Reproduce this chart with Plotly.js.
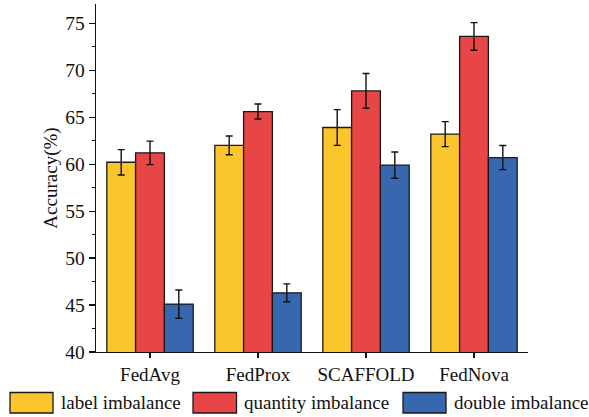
<!DOCTYPE html>
<html>
<head>
<meta charset="utf-8">
<script src="https://cdn.plot.ly/plotly-3.0.1.min.js"></script>
<style>html,body{margin:0;padding:0;background:#fff;}#chart{width:589px;height:417px;}</style>
</head>
<body>
<div id="chart"></div>
<script>
const categories = ["FedAvg", "FedProx", "SCAFFOLD", "FedNova"];
const seriesNames = ["label imbalance", "quantity imbalance", "double imbalance"];
const labelImbalance = [60.2, 62.0, 63.9, 63.2];
const labelImbalanceErr = [1.35, 1.0, 1.9, 1.33];
const quantityImbalance = [61.2, 65.6, 67.8, 73.6];
const quantityImbalanceErr = [1.25, 0.8, 1.85, 1.47];
const doubleImbalance = [45.1, 46.3, 59.9, 60.7];
const doubleImbalanceErr = [1.5, 0.95, 1.4, 1.28];
const yTicks = [40, 45, 50, 55, 60, 65, 70, 75];

const colors = ["#FBC52C", "#E84646", "#3767AF"];
const values = [labelImbalance, quantityImbalance, doubleImbalance];
const errs = [labelImbalanceErr, quantityImbalanceErr, doubleImbalanceErr];
const font = "Liberation Serif";

const traces = values.map((v, i) => ({
  type: "bar",
  name: seriesNames[i],
  x: categories,
  y: v,
  marker: { color: colors[i], line: { color: "#1a1a1a", width: 1.3 } },
  error_y: { type: "data", array: errs[i], visible: true, color: "#111", thickness: 1.4, width: 3.5 },
  showlegend: false
}));

// plot area in pixels
const W = 589, H = 417, L = 96, R = 528, T = 4, B = 352;
const px = x => (x - L) / (R - L);
const py = y => (B - y) / (B - T);

const legendBoxes = [[10, 53, 59], [193, 236.5, 242], [403, 446, 452]];
const shapes = [], annotations = [];
legendBoxes.forEach((b, i) => {
  shapes.push({ type: "rect", xref: "paper", yref: "paper", x0: px(b[0]), x1: px(b[1]), y0: py(413), y1: py(392.5),
    fillcolor: colors[i], line: { color: "#1a1a1a", width: 1.3 } });
  annotations.push({ xref: "paper", yref: "paper", x: px(b[2]), y: py(402.5), xanchor: "left", yanchor: "middle",
    text: seriesNames[i], showarrow: false, font: { family: font, size: 19, color: "#111" } });
});

const layout = {
  width: W, height: H,
  margin: { l: L, r: W - R, t: T, b: H - B },
  paper_bgcolor: "#fff", plot_bgcolor: "#fff",
  barmode: "group", bargap: 0.2, bargroupgap: 0,
  font: { family: font, color: "#111" },
  xaxis: {
    type: "category", range: [-0.5, 3.5],
    showline: true, linecolor: "#111", linewidth: 1.3,
    ticks: "outside", ticklen: 5, tickwidth: 1.2, tickcolor: "#111",
    tickfont: { family: font, size: 19, color: "#111" },
    showgrid: false, zeroline: false
  },
  xaxis2: {
    overlaying: "x", anchor: "y", side: "bottom", range: [-0.5, 3.5],
    tickvals: [-0.5, 0.5, 1.5, 2.5, 3.5], ticks: "outside", ticklen: 4, tickwidth: 1.2, tickcolor: "#111",
    showticklabels: false, showgrid: false, zeroline: false, showline: false
  },
  yaxis: {
    range: [40, 77.05], tickvals: yTicks,
    showline: true, linecolor: "#111", linewidth: 1.3,
    ticks: "outside", ticklen: 6, tickwidth: 1.2, tickcolor: "#111",
    minor: { dtick: 2.5, tick0: 40, ticks: "outside", ticklen: 3, tickwidth: 1.2, tickcolor: "#111", showgrid: false },
    tickfont: { family: font, size: 19.5, color: "#111" },
    title: { text: "Accuracy(%)", font: { family: font, size: 19, color: "#111" }, standoff: 2 },
    showgrid: false, zeroline: false
  },
  shapes: shapes,
  annotations: annotations,
  showlegend: false
};

Plotly.newPlot("chart", traces, layout, { displayModeBar: false, staticPlot: true });
</script>
</body>
</html>
